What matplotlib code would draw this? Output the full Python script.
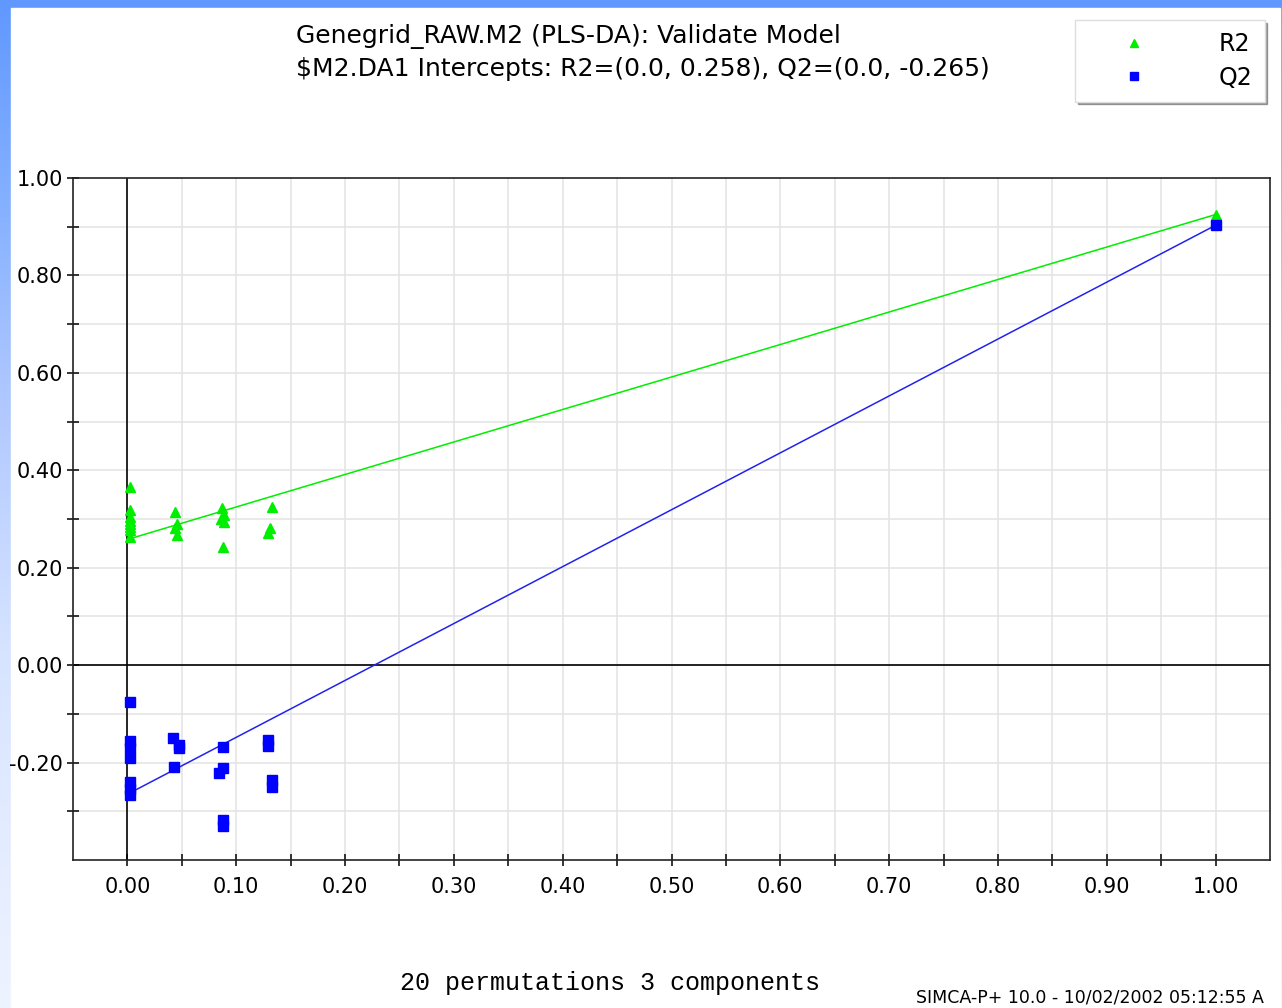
import numpy as np
import matplotlib
matplotlib.use("Agg")
import matplotlib.pyplot as plt
from matplotlib.patches import Rectangle
from matplotlib.ticker import FixedLocator, FuncFormatter

# Permutation results
r2_x = [0.002, 0.002, 0.002, 0.002, 0.002, 0.002, 0.002, 0.002,
        0.044, 0.046, 0.044, 0.046,
        0.087, 0.089, 0.086, 0.089, 0.088,
        0.133, 0.131, 0.129,
        1.0]
r2_y = [0.366, 0.318, 0.304, 0.296, 0.290, 0.283, 0.277, 0.263,
        0.314, 0.290, 0.281, 0.267,
        0.322, 0.308, 0.300, 0.294, 0.242,
        0.324, 0.281, 0.271,
        0.925]
q2_x = [0.002, 0.002, 0.002, 0.002, 0.002, 0.002, 0.002,
        0.042, 0.047, 0.047, 0.043,
        0.088, 0.088, 0.084, 0.088, 0.088,
        0.129, 0.129, 0.133, 0.133,
        1.0]
q2_y = [-0.076, -0.155, -0.170, -0.190, -0.240, -0.255, -0.267,
        -0.150, -0.164, -0.170, -0.209,
        -0.168, -0.212, -0.222, -0.318, -0.330,
        -0.154, -0.166, -0.236, -0.250,
        0.903]

# regression lines: intercept at x=0 and the original model at x=1
line_x = [0.0, 1.0]
r2_line = [0.258, 0.925]
q2_line = [-0.265, 0.903]

title1 = "Genegrid_RAW.M2 (PLS-DA): Validate Model"
title2 = "$M2.DA1 Intercepts: R2=(0.0, 0.258), Q2=(0.0, -0.265)"
footer = "20 permutations 3 components"
stamp = "SIMCA-P+ 10.0 - 10/02/2002 05:12:55 A"

W, H = 1282, 1008
plt.rcParams['font.family'] = ['DejaVu Sans']
plt.rcParams['mathtext.default'] = 'regular'
fig = plt.figure(figsize=(W / 100, H / 100), dpi=100)

# slide background: blue gradient border with white chart area
bg = fig.add_axes([0, 0, 1, 1], zorder=-10)
stops_y = [0, 200, 400, 650, 1008]
stops_c = np.array([[96, 152, 255], [132, 176, 255], [176, 200, 255],
                    [215, 228, 255], [238, 243, 255]]) / 255
rows = np.arange(H)
grad = np.stack([np.interp(rows, stops_y, stops_c[:, k]) for k in range(3)], axis=1)
bg.imshow(grad[:, None, :], aspect='auto', extent=[0, W, H, 0])
bg.add_patch(Rectangle((11, 8), 1280 - 11, H - 8, color='white'))
bg.set_xlim(0, W)
bg.set_ylim(H, 0)
bg.axis('off')

ax = fig.add_axes([73 / W, 1 - 860 / H, (1270 - 73) / W, (860 - 178) / H])
ax.set_xlim(-0.05, 1.05)
ax.set_ylim(-0.40, 1.00)

# grid: vertical every 0.05, horizontal every 0.1
for gx in np.arange(0.05, 1.05, 0.05):
    ax.axvline(gx, color='#e3e3e3', lw=1.1, zorder=0)
for gy in np.arange(-0.3, 1.0, 0.1):
    ax.axhline(gy, color='#e3e3e3', lw=1.1, zorder=0)
ax.axvline(0, color='black', lw=1.2, zorder=1)
ax.axhline(0, color='black', lw=1.2, zorder=1)

ax.plot(line_x, r2_line, color='#00ee00', lw=1.1, zorder=2)
ax.plot(line_x, q2_line, color='#2222ee', lw=1.1, zorder=2)
ax.plot(r2_x, r2_y, linestyle='none', marker='^', ms=7, color='#00ee00',
        mec='#00ee00', label='R2', zorder=3)
ax.plot(q2_x, q2_y, linestyle='none', marker='s', ms=7, color='#0000ff',
        mec='#0000ff', label='Q2', zorder=3)

ax.xaxis.set_major_locator(FixedLocator(np.round(np.arange(0, 1.01, 0.1), 2)))
ax.xaxis.set_minor_locator(FixedLocator(np.round(np.arange(0.05, 1.0, 0.1), 2)))
ax.yaxis.set_major_locator(FixedLocator(np.round(np.arange(-0.2, 1.01, 0.2), 2)))
ax.yaxis.set_minor_locator(FixedLocator(np.round(np.arange(-0.3, 1.0, 0.2), 2)))
fmt = FuncFormatter(lambda v, p: f"{v:.2f}" if abs(v) > 1e-9 else "0.00")
ax.xaxis.set_major_formatter(fmt)
ax.yaxis.set_major_formatter(fmt)
ax.tick_params(which='both', direction='inout', length=8, width=1.1,
               labelsize=15, colors='black')
ax.tick_params(axis='x', pad=8)
ax.tick_params(axis='y', pad=3)
for s in ax.spines.values():
    s.set_linewidth(1.2)
    s.set_color('#222222')

leg = ax.legend(loc='upper left', bbox_to_anchor=(1075 / W, 1 - 20 / H),
                bbox_transform=fig.transFigure, borderaxespad=0, fontsize=17,
                handlelength=4.0, handletextpad=1.6, borderpad=0.5,
                labelspacing=0.42, markerscale=0.8, fancybox=False, shadow=True,
                edgecolor='#dddddd', framealpha=1)

fig.text(296 / W, 1 - 43 / H, title1, fontsize=18, va='baseline', ha='left')
fig.text(296 / W, 1 - 76 / H, title2, fontsize=18, va='baseline', ha='left')
fig.text(610 / W, 1 - 990 / H, footer, fontsize=18, family='Liberation Mono',
         va='baseline', ha='center')
fig.text(916 / W, 1 - 1003 / H, stamp, fontsize=12.5, va='baseline', ha='left')

fig.savefig("out.png", dpi=100)
